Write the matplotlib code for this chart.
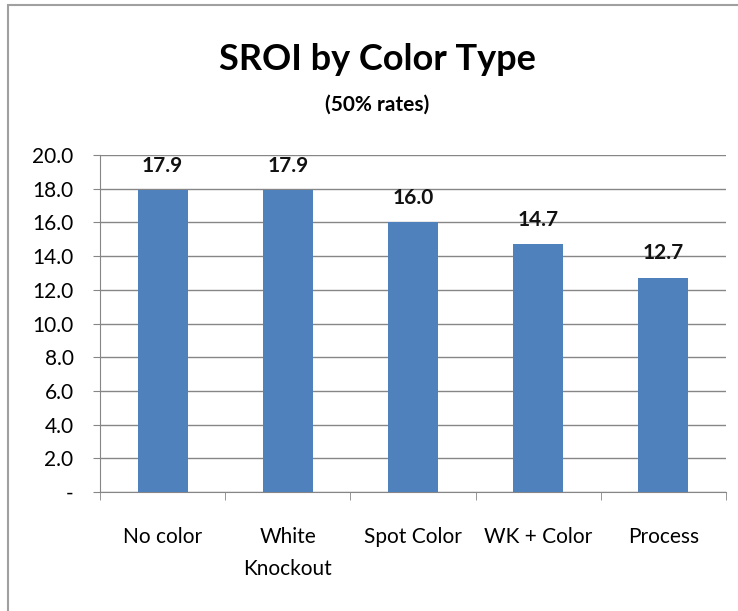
import numpy as np
import matplotlib
matplotlib.use("Agg")
import matplotlib.pyplot as plt
import matplotlib.patches as patches

plt.rcParams['font.family'] = ['Lato', 'DejaVu Sans']

categories = ["No color", "White\nKnockout", "Spot Color", "WK + Color", "Process"]
sroi = [17.9, 17.9, 16.0, 14.7, 12.7]
yticks = np.arange(0, 20.1, 2.0)
ytick_labels = ["-"] + ["%.1f" % v for v in yticks[1:]]

bar_color = "#4F81BD"
grid_color = "#868686"

fig = plt.figure(figsize=(7.38, 6.11), dpi=100)
W, H = 738, 611
# axes box in pixels: left 100, right 726, top 155, bottom 492
ax = fig.add_axes([100 / W, 1 - 492 / H, 626 / W, 337 / H])

x = np.arange(len(categories))
ax.bar(x, sroi, width=0.4, color=bar_color, zorder=3)
for xi, v in zip(x, sroi):
    ax.text(xi, v + 1.1, "%.1f" % v, ha="center", va="baseline",
            fontsize=15, fontweight="bold", color="#111111")

ax.set_xlim(-0.5, len(categories) - 0.5)
ax.set_ylim(0, 20)
ax.set_yticks(yticks)
ax.set_yticklabels(ytick_labels, fontsize=15)
ax.set_xticks(x)
ax.set_xticklabels(categories, fontsize=15, linespacing=1.75)
ax.set_xticks(np.arange(-0.5, len(categories)), minor=True)
ax.tick_params(axis="x", which="major", length=0, pad=25)
ax.tick_params(axis="x", which="minor", length=6, color=grid_color, direction="out")
ax.tick_params(axis="y", length=5, color=grid_color, pad=14)

ax.yaxis.grid(True, color=grid_color, linewidth=1.0, zorder=0)
for side in ["top", "right"]:
    ax.spines[side].set_visible(False)
ax.spines["left"].set_color(grid_color)
ax.spines["bottom"].set_color(grid_color)
ax.set_axisbelow(True)

fig.text(377 / W, 1 - 60 / H, "SROI by Color Type", ha="center", va="center",
         fontsize=26, fontweight="bold")
fig.text(377 / W, 1 - 105 / H, "(50% rates)", ha="center", va="center",
         fontsize=15, fontweight="bold")

# grey frame around the chart area
frame = patches.Rectangle((8 / W, -0.05), 1.1, 1 - 5 / H + 0.05, transform=fig.transFigure,
                          fill=False, edgecolor="#A0A0A0", linewidth=1.5)
fig.patches.append(frame)

fig.savefig("out.png", dpi=100)
